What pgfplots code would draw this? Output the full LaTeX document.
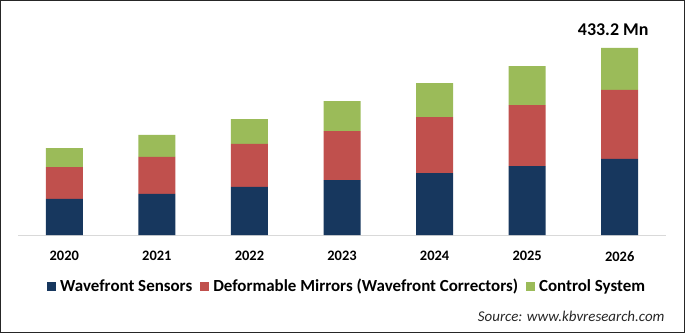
\documentclass[border=0pt]{standalone}
\usepackage{pgfplots}
\pgfplotsset{compat=1.18}
\usepackage{fontspec}
\setmainfont{Carlito}
\definecolor{cblue}{HTML}{17375E}
\definecolor{cred}{HTML}{C0504D}
\definecolor{cgreen}{HTML}{9BBB59}
\begin{document}
\begin{tikzpicture}
\begin{axis}[
  at={(18bp,98bp)}, anchor=south west,
  scale only axis, width=648bp, height=200bp,
  xmin=-0.5, xmax=6.5, ymin=0, ymax=463.3,
  ybar stacked, bar width=37bp,
  axis y line=none, axis x line=bottom,
  x axis line style={-, draw=black!15, line width=1bp},
  xtick={0,1,2,3,4,5,6},
  xticklabels={2020,2021,2022,2023,2024,2025,2026},
  xtick style={draw=none}, major tick length=0pt,
  xticklabel style={font=\bfseries\fontsize{14.5}{17}\selectfont, text=black, yshift=-13bp},
  clip=false,
  legend columns=3,
  legend style={at={(0.508,-0.255)}, anchor=center, draw=none, fill=none,
    font=\bfseries\fontsize{17}{20}\selectfont,
    /tikz/every even column/.append style={column sep=6bp}},
  legend image code/.code={\fill[#1] (0bp,-4.5bp) rectangle (9bp,4.5bp); \path (11bp,0bp);},
]
\addplot[fill=cblue, draw=none] coordinates {(0,83.4) (1,95.0) (2,111.2) (3,127.4) (4,143.6) (5,159.8) (6,176.1)};
\addlegendentry{Wavefront Sensors}
\addplot[fill=cred, draw=none] coordinates {(0,74.1) (1,85.7) (2,99.6) (3,113.5) (4,129.7) (5,141.3) (6,159.8)};
\addlegendentry{Deformable Mirrors (Wavefront Correctors)}
\addplot[fill=cgreen, draw=none] coordinates {(0,44.0) (1,51.0) (2,57.9) (3,69.5) (4,78.8) (5,90.3) (6,97.3)};
\addlegendentry{Control System}
\node[font=\bfseries\fontsize{18}{21}\selectfont, anchor=center] at ([xshift=-6.5bp, yshift=18bp]axis cs:6,433.2) {433.2 Mn};
\end{axis}
\node[anchor=east, font=\itshape\fontsize{15}{17}\selectfont, text=black!85] at (668bp,17bp) {Source: www.kbvresearch.com};
\draw[black!85, line width=1.2bp] (0.6bp,0.6bp) rectangle (684.4bp,332.4bp);
\pgfresetboundingbox
\path[use as bounding box] (0,0) rectangle (685bp,333bp);
\end{tikzpicture}
\end{document}
